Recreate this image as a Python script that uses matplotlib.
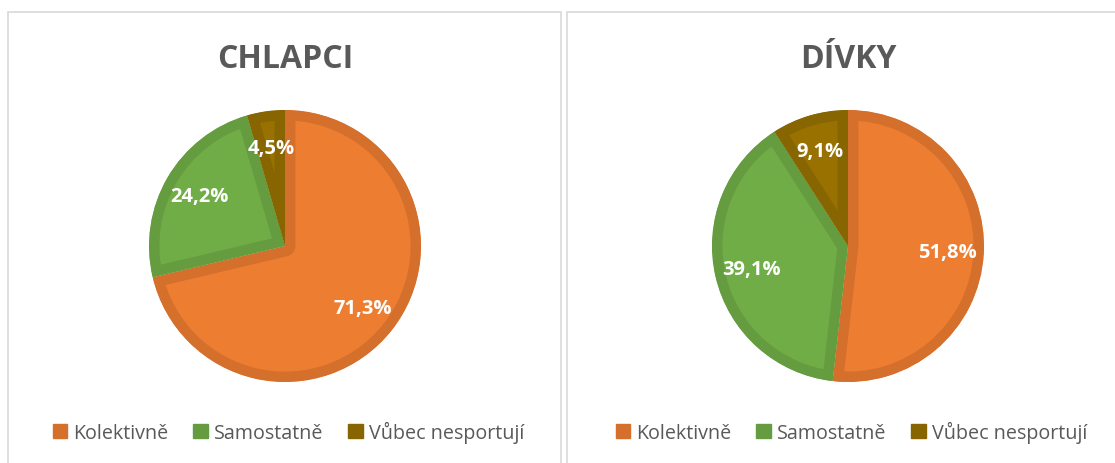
import matplotlib.pyplot as plt
from matplotlib.patches import Rectangle

plt.rcParams['font.family'] = ['Open Sans', 'DejaVu Sans']

categories = ['Kolektivně', 'Samostatně', 'Vůbec nesportují']
titles = ['CHLAPCI', 'DÍVKY']
chlapci = [71.3, 24.2, 4.5]
divky = [51.8, 39.1, 9.1]

fill_colors = ['#ED7D31', '#70AD47', '#987100']
edge_colors = ['#D56F2C', '#659C40', '#876500']

fig = plt.figure(figsize=(11.15, 4.64), dpi=100)

# ramecky kolem obou grafu
for x0, x1 in [(8, 561), (567, 1120)]:
    fig.patches.append(Rectangle((x0 / 1115, -0.05), (x1 - x0) / 1115, (464 - 13) / 464 + 0.05,
                                 transform=fig.transFigure, fill=False,
                                 edgecolor='#D9D9D9', linewidth=1.2))

for i, (title, values) in enumerate(zip(titles, [chlapci, divky])):
    cx = [285, 848][i]
    r = 136
    ax = fig.add_axes([(cx - r) / 1115, (464 - 247 - r) / 464, 2 * r / 1115, 2 * r / 464])
    wedges, texts, autotexts = ax.pie(
        values, colors=fill_colors, startangle=90, counterclock=False,
        autopct=lambda p: f'{p:.1f}%'.replace('.', ','), pctdistance=0.73,
        wedgeprops=dict(edgecolor='none'),
        textprops=dict(color='white', fontsize=14.5, fontweight='bold'))
    # tmavsi okraj uvnitr kazde vysece
    for w, ec in zip(wedges, edge_colors):
        w.set_edgecolor(ec)
        w.set_linewidth(15)
        w.set_joinstyle('round')
        w.set_clip_path(w.get_path(), w.get_transform())
        w.set_clip_on(True)
    ax.set_xlim(-1, 1)
    ax.set_ylim(-1, 1)
    ax.set_aspect('equal')

    fig.text(cx / 1115, 1 - 59 / 464, title, ha='center', va='center',
             fontsize=23, fontweight='bold', color='#595959')

    handles = [Rectangle((0, 0), 1, 1, color=c) for c in edge_colors]
    fig.legend(handles, categories, loc='center', bbox_to_anchor=(cx / 1115 + 0.003, 1 - 433 / 464),
               ncol=3, frameon=False, fontsize=14.2, labelcolor='#595959',
               handlelength=0.75, handleheight=0.75, handletextpad=0.3, columnspacing=1.25)

fig.savefig('out.png', dpi=100)
